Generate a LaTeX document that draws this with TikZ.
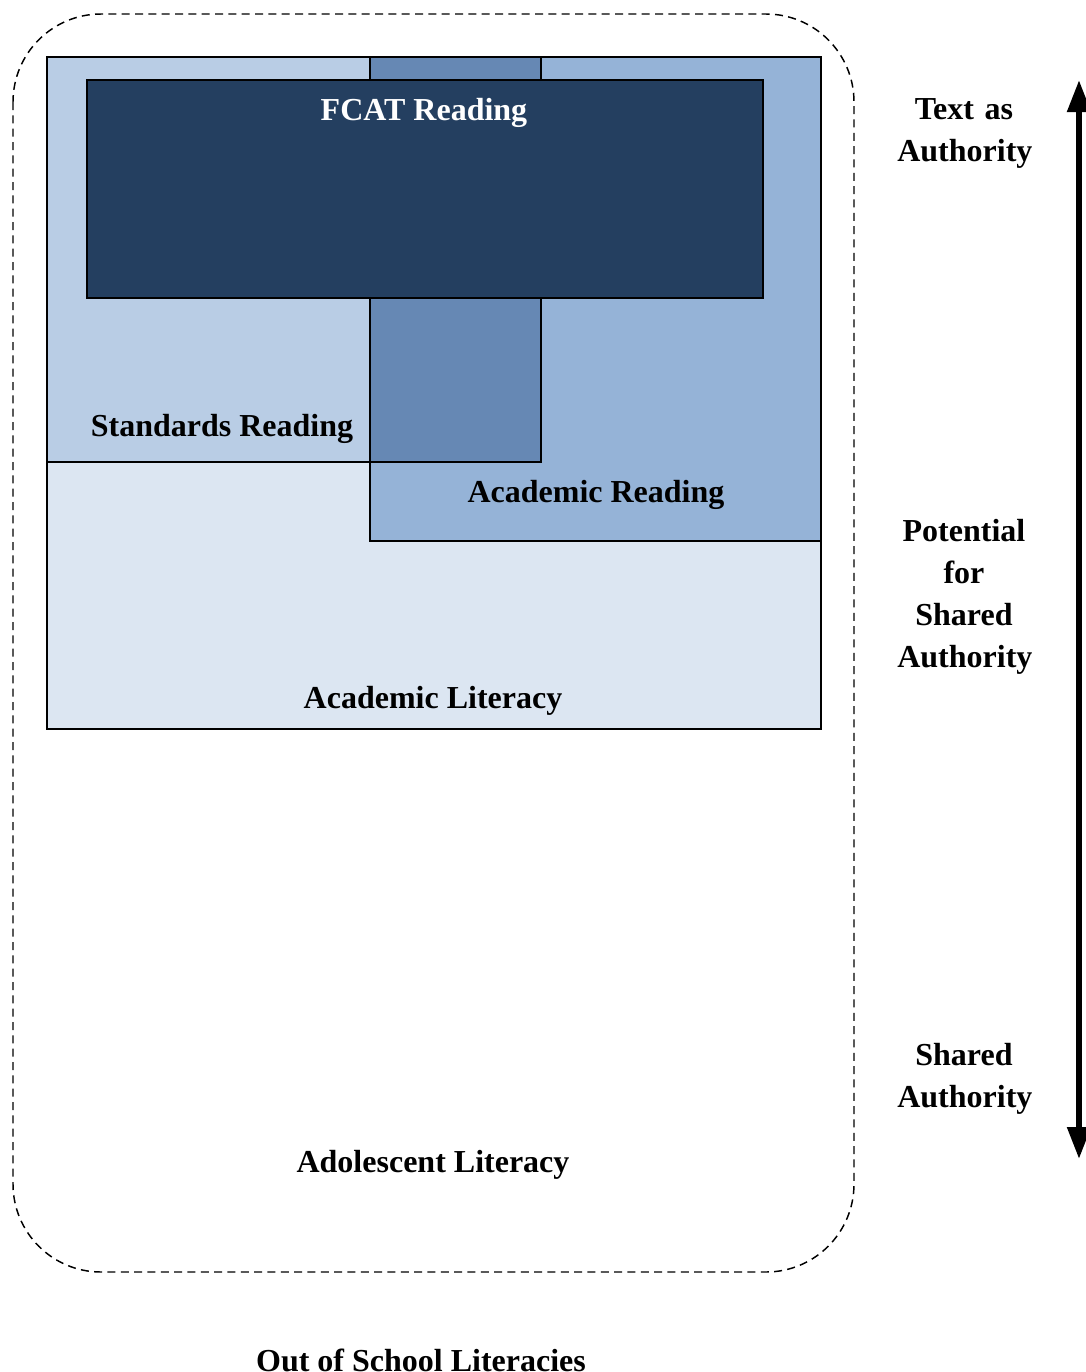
\documentclass[tikz,border=0pt]{standalone}
\usepackage{fontspec}
\setmainfont{Liberation Serif}
\usetikzlibrary{arrows.meta}

\definecolor{litcol}{HTML}{DCE6F2}
\definecolor{stdcol}{HTML}{B9CDE5}
\definecolor{acrcol}{HTML}{95B3D7}
\definecolor{mixcol}{HTML}{6688B4}
\definecolor{fcatcol}{HTML}{243F60}

\begin{document}
\begin{tikzpicture}[x=0.75pt, y=-0.75pt,
    box/.style={draw=black, line width=1.3pt},
    lbl/.style={font=\fontsize{24}{31.5}\selectfont\bfseries,
        inner sep=0pt, align=center},
    side/.style={lbl, text width=100pt}
    ]
    \useasboundingbox (0,0) rectangle (1086,1372);
    % outer dashed frame
    \draw[line width=1.1pt, dash pattern=on 6pt off 4pt,
        rounded corners=66pt] (13,14) rectangle (854,1272);
    % nested boxes
    \draw[box, fill=litcol] (47,57) rectangle (821,729);
    \draw[box, fill=stdcol] (47,57) rectangle (541,462);
    \draw[box, fill=acrcol] (370,57) rectangle (821,541);
    \draw[box, fill=mixcol] (370,57) rectangle (541,462);
    \draw[box, fill=fcatcol] (87,80) rectangle (763,298);

    \node[lbl, text=white] (fcat) at (424,113) {FCAT Reading};
    \node[lbl] (std) at (222,429) {Standards Reading};
    \node[lbl] (acr) at (596,495) {Academic Reading};
    \node[lbl] (alit) at (433,701) {Academic Literacy};
    \node[lbl] (adol) at (433,1165) {Adolescent Literacy};
    \node[lbl] (oos) at (421,1360) {Out of School Literacies};

    \node[side] (text) at (964,133) {Text as\\Authority};
    \node[side] (pot) at (964,597) {Potential\\for\\Shared\\Authority};
    \node[side] (shared) at (964,1079) {Shared\\Authority};

    \coordinate (top) at (1079,80);
    \coordinate (bot) at (1079,1159);
    \draw[line width=4.5pt, {Triangle[length=24pt, width=17pt]}-{Triangle[length=24pt, width=17pt]}]
        (top) -- (bot);
\end{tikzpicture}
\end{document}
